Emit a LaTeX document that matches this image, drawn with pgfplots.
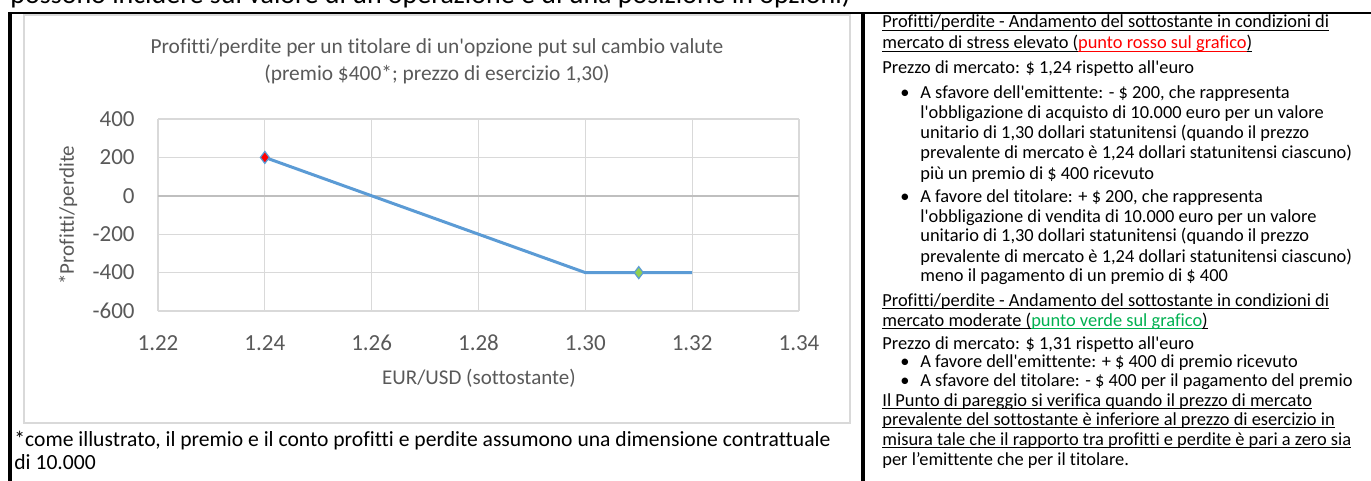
\documentclass[border=0pt]{standalone}
\usepackage{pgfplots}
\pgfplotsset{compat=1.18}
\usepackage{fontspec}
\setmainfont{Carlito}[Ligatures=NoCommon]
\definecolor{lineblue}{HTML}{5B9BD5}
\definecolor{gridgray}{HTML}{D9D9D9}
\definecolor{zerogray}{HTML}{BFBFBF}
\definecolor{tickgray}{HTML}{595959}
\definecolor{markgreen}{HTML}{92D050}
\definecolor{txtgreen}{HTML}{00B050}
\definecolor{txtred}{HTML}{FF0000}
\newcommand{\ul}[1]{\setbox0\hbox{#1}\rlap{\rule[-1.5pt]{\wd0}{0.5pt}}\box0}
\newcommand{\rfont}{\fontsize{9.2}{11}\selectfont}
\newcommand{\ap}{\textquotesingle}
\begin{document}
\begin{tikzpicture}[x=0.5pt,y=-0.5pt]
\useasboundingbox (0,0) rectangle (1371,481);
\clip (0,0) rectangle (1371,481);
% top line of text, cut off by the page edge as in the source
\node[anchor=base west, inner sep=0pt, font=\fontsize{14}{16}\selectfont] at (10,3.5) {possono incidere sul valore di un\ap operazione e di una posizione in opzioni)};
% table rules
\draw[black, line width=1.4pt] (8,13) -- (1371,13);
\draw[black, line width=2pt] (10,13) -- (10,481);
\draw[black, line width=2pt] (863,13) -- (863,481);
% chart area border
\draw[gridgray, line width=0.6pt] (24,15) rectangle (850,423);
% chart title
\node[font=\fontsize{10.7}{12}\selectfont, text=tickgray, anchor=base, inner sep=0pt] at (437,54) {Profitti/perdite per un titolare di un\ap opzione put sul cambio valute};
\node[font=\fontsize{10.7}{12}\selectfont, text=tickgray, anchor=base, inner sep=0pt] at (437,81) {(premio \$400*; prezzo di esercizio 1,30)};
% axis labels
\node[font=\fontsize{10.5}{12}\selectfont, text=tickgray, rotate=90, inner sep=0pt] at (68,215) {*Profitti/perdite};
\node[font=\fontsize{10.5}{12}\selectfont, text=tickgray, inner sep=0pt] at (479,378) {EUR/USD (sottostante)};
\begin{axis}[
  at={(79pt,-155.5pt)}, anchor=south west,
  scale only axis, width=320.5pt, height=96pt,
  xmin=1.22, xmax=1.34, ymin=-600, ymax=400,
  xtick={1.22,1.24,1.26,1.28,1.30,1.32,1.34},
  ytick={-600,-400,-200,0,200,400},
  /pgf/number format/assume math mode=true,
  xticklabel={\pgfmathprintnumber[fixed,fixed zerofill,precision=2,assume math mode=true]{\tick}},
  yticklabel={\pgfmathprintnumber[fixed,precision=0,assume math mode=true]{\tick}},
  grid=major,
  grid style={draw=gridgray, line width=0.6pt},
  axis line style={draw=none},
  major tick length=0pt,
  tick label style={font=\fontsize{11.5}{13}\selectfont, text=tickgray},
  xticklabel style={anchor=center, inner sep=0pt, yshift=-16pt},
  yticklabel style={anchor=east, inner sep=0pt, xshift=-11.5pt},
  clip=false,
]
\draw[zerogray, line width=0.7pt] (axis cs:1.22,0) -- (axis cs:1.34,0);
\addplot[color=lineblue, line width=1.5pt, mark=none] coordinates {
  (1.24,200) (1.26,0) (1.28,-200) (1.30,-400) (1.31,-400) (1.32,-400)
};
\addplot[only marks, mark=diamond*, mark size=3pt, mark options={fill=txtred, draw=lineblue, line width=0.6pt}] coordinates {(1.24,200)};
\addplot[only marks, mark=diamond*, mark size=3pt, mark options={fill=markgreen, draw=lineblue, line width=0.6pt}] coordinates {(1.31,-400)};
\end{axis}
% footnote
\node[anchor=base west, inner sep=0pt, font=\fontsize{10.8}{13}\selectfont] at (14,446) {*come illustrato, il premio e il conto profitti e perdite assumono una dimensione contrattuale};
\node[anchor=base west, inner sep=0pt, font=\fontsize{10.8}{13}\selectfont] at (14,469) {di 10.000};
% right column
\begin{scope}[every node/.style={anchor=base west, inner sep=0pt, font=\rfont}]
\node at (882,28) {\ul{Profitti/perdite - Andamento del sottostante in condizioni di}};
\node at (882,49) {\ul{mercato di stress elevato (}\textcolor{txtred}{\ul{punto rosso sul grafico}}\ul{)}};
\node at (882,74) {Prezzo di mercato: \$ 1,24 rispetto all\ap euro};
\node at (900,99) {•};
\node at (920,99) {A sfavore dell\ap emittente: - \$ 200, che rappresenta};
\node at (920,119) {l\ap obbligazione di acquisto di 10.000 euro per un valore};
\node at (920,139) {unitario di 1,30 dollari statunitensi (quando il prezzo};
\node at (920,159) {prevalente di mercato è 1,24 dollari statunitensi ciascuno)};
\node at (920,179) {più un premio di \$ 400 ricevuto};
\node at (900,202) {•};
\node at (920,202) {A favore del titolare: + \$ 200, che rappresenta};
\node at (920,222) {l\ap obbligazione di vendita di 10.000 euro per un valore};
\node at (920,242) {unitario di 1,30 dollari statunitensi (quando il prezzo};
\node at (920,262) {prevalente di mercato è 1,24 dollari statunitensi ciascuno)};
\node at (920,281) {meno il pagamento di un premio di \$ 400};
\node at (882,306) {\ul{Profitti/perdite - Andamento del sottostante in condizioni di}};
\node at (882,326) {\ul{mercato moderate (}\textcolor{txtgreen}{\ul{punto verde sul grafico}}\ul{)}};
\node at (882,349) {Prezzo di mercato: \$ 1,31 rispetto all\ap euro};
\node at (900,367) {•};
\node at (920,367) {A favore dell\ap emittente: + \$ 400 di premio ricevuto};
\node at (900,386) {•};
\node at (920,386) {A sfavore del titolare: - \$ 400 per il pagamento del premio};
\node at (882,406) {\ul{Il Punto di pareggio si verifica quando il prezzo di mercato}};
\node at (882,425) {\ul{prevalente del sottostante è inferiore al prezzo di esercizio in}};
\node at (882,445) {\ul{misura tale che il rapporto tra profitti e perdite è pari a zero sia}};
\node at (882,465) {per l’emittente che per il titolare.};
\end{scope}
\end{tikzpicture}
\end{document}
